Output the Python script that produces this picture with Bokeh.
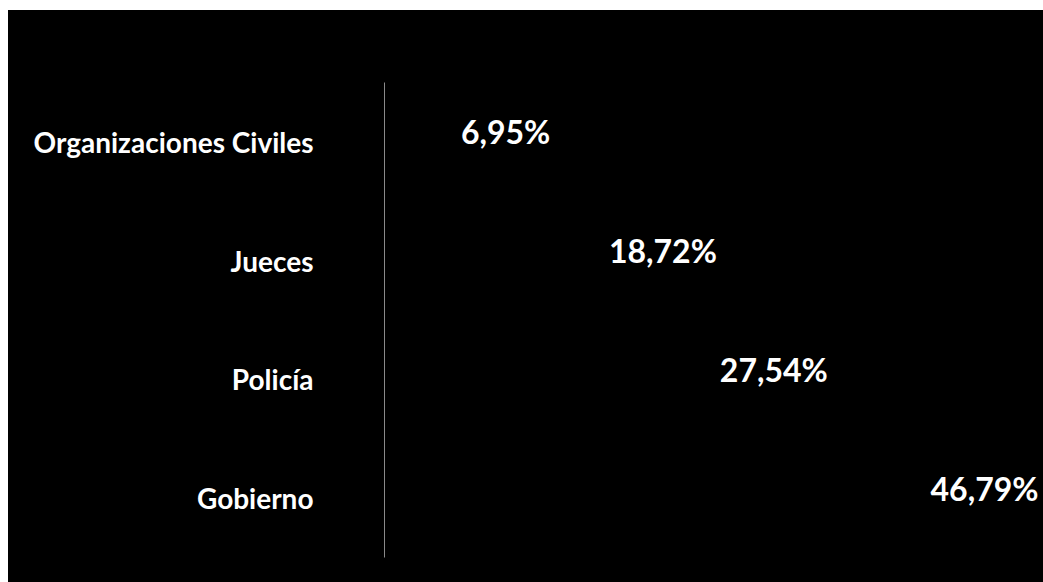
from bokeh.plotting import figure
from bokeh.models import ColumnDataSource, Range1d, FactorRange
from bokeh.core.properties import value
from bokeh.embed import file_html
from bokeh.resources import INLINE
import numpy as np

categories = ["Organizaciones Civiles", "Jueces", "Policía", "Gobierno"]
values = [6.95, 18.72, 27.54, 46.79]
labels = ["6,95%", "18,72%", "27,54%", "46,79%"]

FONT = "Lato"
x_end = 52.4

p = figure(width=1035, height=572, output_backend="svg", toolbar_location=None,
           y_range=FactorRange(*reversed(categories), range_padding=0),
           x_range=Range1d(0, x_end),
           min_border_left=376, min_border_right=0,
           min_border_top=72, min_border_bottom=25,
           margin=(10, 0, 0, 8))
p.styles = {"background-color": "black"}
p.background_fill_color = "black"
p.border_fill_color = "black"
p.outline_line_color = None
p.xgrid.visible = False
p.ygrid.visible = False
p.xaxis.visible = False

ax = p.yaxis[0]
ax.major_tick_line_color = None
ax.minor_tick_line_color = None
ax.axis_line_color = "#8a8a8a"
ax.axis_line_width = 1
ax.major_label_standoff = 65
ax.major_label_text_color = "white"
ax.major_label_text_font = FONT
ax.major_label_text_font_style = "bold"
ax.major_label_text_font_size = "28px"

src = ColumnDataSource(dict(cat=categories, val=values, lab=labels))
p.hbar(y="cat", right="val", left=0, height=0.6, source=src,
       fill_color="black", line_color=None)

vals = np.array(values)
fits = vals < 40
inside = ColumnDataSource(dict(cat=[c for c, f in zip(categories, fits) if f],
                               val=vals[fits].tolist(),
                               lab=[l for l, f in zip(labels, fits) if f]))
outside = ColumnDataSource(dict(cat=[c for c, f in zip(categories, fits) if not f],
                                val=[x_end] * int((~fits).sum()),
                                lab=[l for l, f in zip(labels, fits) if not f]))

p.text(x="val", y="cat", text="lab", source=inside, text_color="white",
       text_font=value(FONT), text_font_style="bold", text_font_size="32px",
       text_align="left", text_baseline="middle", x_offset=-11, y_offset=-10)
p.text(x="val", y="cat", text="lab", source=outside, text_color="white",
       text_font=value(FONT), text_font_style="bold", text_font_size="32px",
       text_align="right", text_baseline="middle", x_offset=-5, y_offset=-10)

open("out.html", "w").write(file_html(p, INLINE))
